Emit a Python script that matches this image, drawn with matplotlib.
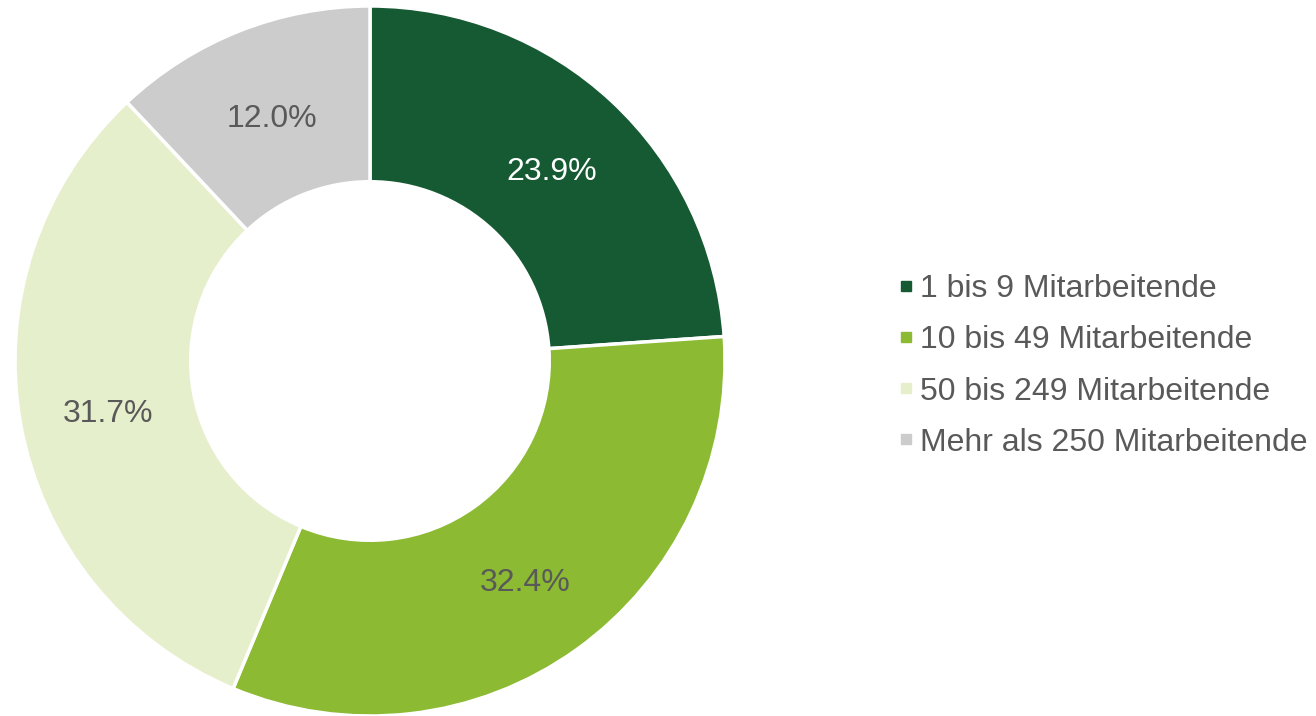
import matplotlib.pyplot as plt
import matplotlib.transforms as mtransforms
from matplotlib.lines import Line2D

plt.rcParams['font.family'] = ['Liberation Sans', 'DejaVu Sans']

# Share of companies by size
categories = ['1 bis 9 Mitarbeitende', '10 bis 49 Mitarbeitende',
              '50 bis 249 Mitarbeitende', 'Mehr als 250 Mitarbeitende']
shares = [23.9, 32.4, 31.7, 12.0]
colors = ['#165a34', '#8cba33', '#e6efcc', '#cccccc']
label_colors = ['white', '#595959', '#595959', '#595959']

fig = plt.figure(figsize=(13.16, 7.16), dpi=100)
ax = fig.add_axes([15 / 1316, 0, 710 / 1316, 710 / 716])

wedges, texts, autotexts = ax.pie(
    shares, colors=colors, startangle=90, counterclock=False,
    autopct='%.1f%%', pctdistance=0.75,
    wedgeprops=dict(width=0.495, edgecolor='white', linewidth=2.5),
    textprops=dict(fontsize=23))
# nudge labels down a few pixels
shift = mtransforms.offset_copy(ax.transData, fig=fig, x=0, y=-6, units='dots')
for t, c in zip(autotexts, label_colors):
    t.set_color(c)
    t.set_transform(shift)
ax.set_xlim(-1, 1)
ax.set_ylim(-1, 1)
ax.set_aspect('equal')

handles = [Line2D([], [], marker='s', linestyle='', markersize=7.5,
                  markerfacecolor=c, markeredgecolor=c) for c in colors]
leg = fig.legend(handles, categories, loc='center left',
                 bbox_to_anchor=(885 / 1316, 1 - 366 / 716), frameon=False,
                 fontsize=23, handlelength=0.5, handletextpad=0.2,
                 labelspacing=0.66, borderaxespad=0)
for t in leg.get_texts():
    t.set_color('#595959')

fig.savefig('out.png', dpi=100)
